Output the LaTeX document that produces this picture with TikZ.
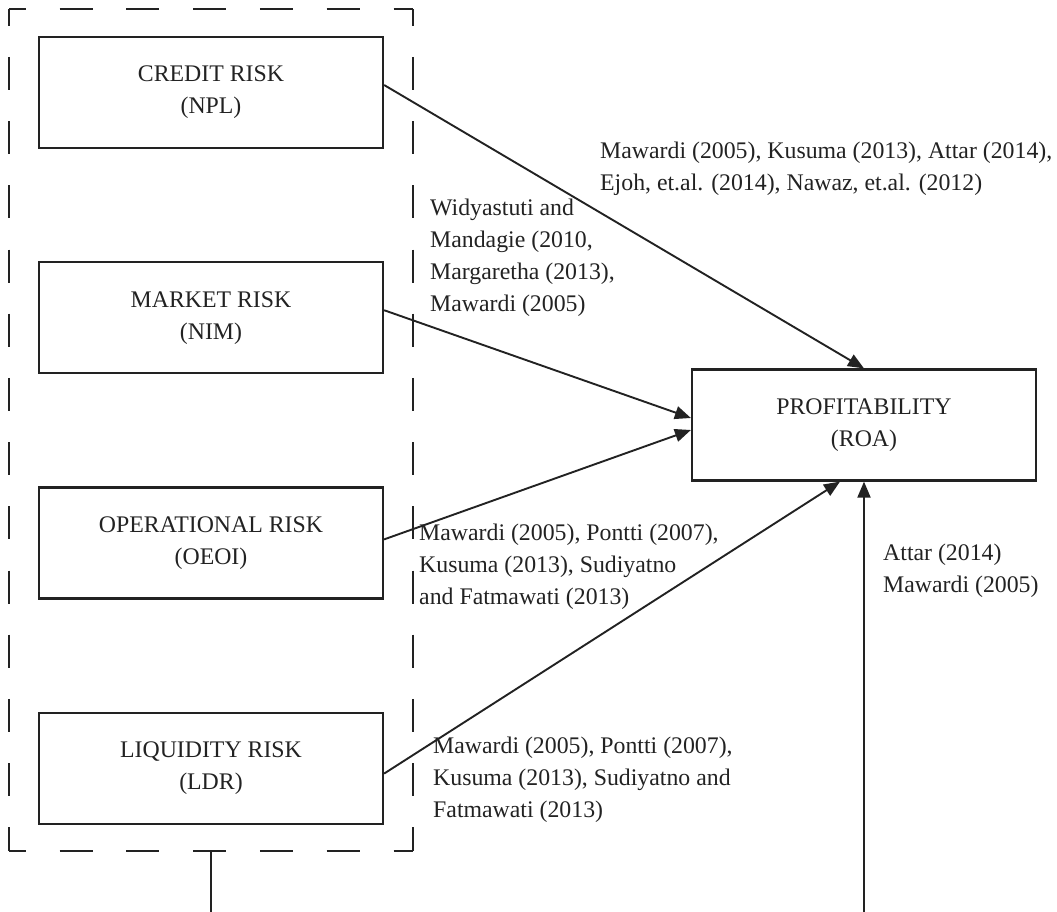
\documentclass[tikz,border=0pt]{standalone}
\usepackage{fontspec}
\setmainfont{Liberation Serif}
\usetikzlibrary{arrows.meta,positioning,fit}
\definecolor{ink}{HTML}{222222}
\tikzset{
  >={Triangle[length=16pt,width=13pt]},
  rbox/.style={draw=ink,line width=2.2pt,minimum width=344pt,minimum height=111pt,inner sep=0pt,align=center,text=ink},
  cite/.style={anchor=west,inner sep=0pt,align=left,text=ink},
  arr/.style={->,draw=ink,line width=1.9pt},
  link/.style={draw=ink,line width=2.1pt},
  hside/.style={draw=ink,line width=2.1pt,dash pattern=on 33pt off 33.8pt,dash phase=16.5pt},
  vside/.style={draw=ink,line width=2.1pt,dash pattern=on 33pt off 31.2pt,dash phase=16.5pt},
}
\begin{document}
\begin{tikzpicture}[x=1pt,y=-1pt,node distance=112pt,font=\fontsize{23.8}{32}\selectfont]
\useasboundingbox (0,0) rectangle (1057,912);
% risk variables
\node[rbox] (cr) at (211,92.5) {CREDIT RISK\\(NPL)};
\node[rbox,below=of cr] (mk) {MARKET RISK\\(NIM)};
\node[rbox,below=of mk] (op) {OPERATIONAL RISK\\(OEOI)};
\node[rbox,below=of op] (lq) {LIQUIDITY RISK\\(LDR)};
\node[rbox] (pr) at (864,425) {PROFITABILITY\\(ROA)};
% dashed group frame
\node[fit=(cr)(lq),inner xsep=28.5pt,inner ysep=26.5pt] (grp) {};
\draw[hside] (grp.north west) -- (grp.north east);
\draw[hside] (grp.south west) -- (grp.south east);
\draw[vside] (grp.north west) -- (grp.south west);
\draw[vside] (grp.north east) -- (grp.south east);
% paths
\draw[arr] ([yshift=7.5pt]cr.east) -- (pr.north);
\draw[arr] ([yshift=7.5pt]mk.east) -- ([yshift=7pt]pr.west);
\draw[arr] ([yshift=3.5pt]op.east) -- ([yshift=-5pt]pr.west);
\draw[arr] ([yshift=-5.5pt]lq.east) -- ([xshift=-24pt]pr.south);
\coordinate (bot) at (0,912);
\draw[link] (grp.south) -- (grp.south |- bot);
\draw[arr] (pr.south |- bot) -- (pr.south);
% references
\node[cite] (ca) at (600,169) {Mawardi (2005), Kusuma (2013), Attar (2014),\\Ejoh, et.al. (2014), Nawaz, et.al. (2012)};
\node[cite] (cb) at (430,258) {Widyastuti and\\Mandagie (2010,\\Margaretha (2013),\\Mawardi (2005)};
\node[cite] (cc) at (419,567) {Mawardi (2005), Pontti (2007),\\Kusuma (2013), Sudiyatno\\and Fatmawati (2013)};
\node[cite] (cd) at (433,780) {Mawardi (2005), Pontti (2007),\\Kusuma (2013), Sudiyatno and\\Fatmawati (2013)};
\node[cite] (ce) at (883,571) {Attar (2014)\\Mawardi (2005)};
\end{tikzpicture}
\end{document}
